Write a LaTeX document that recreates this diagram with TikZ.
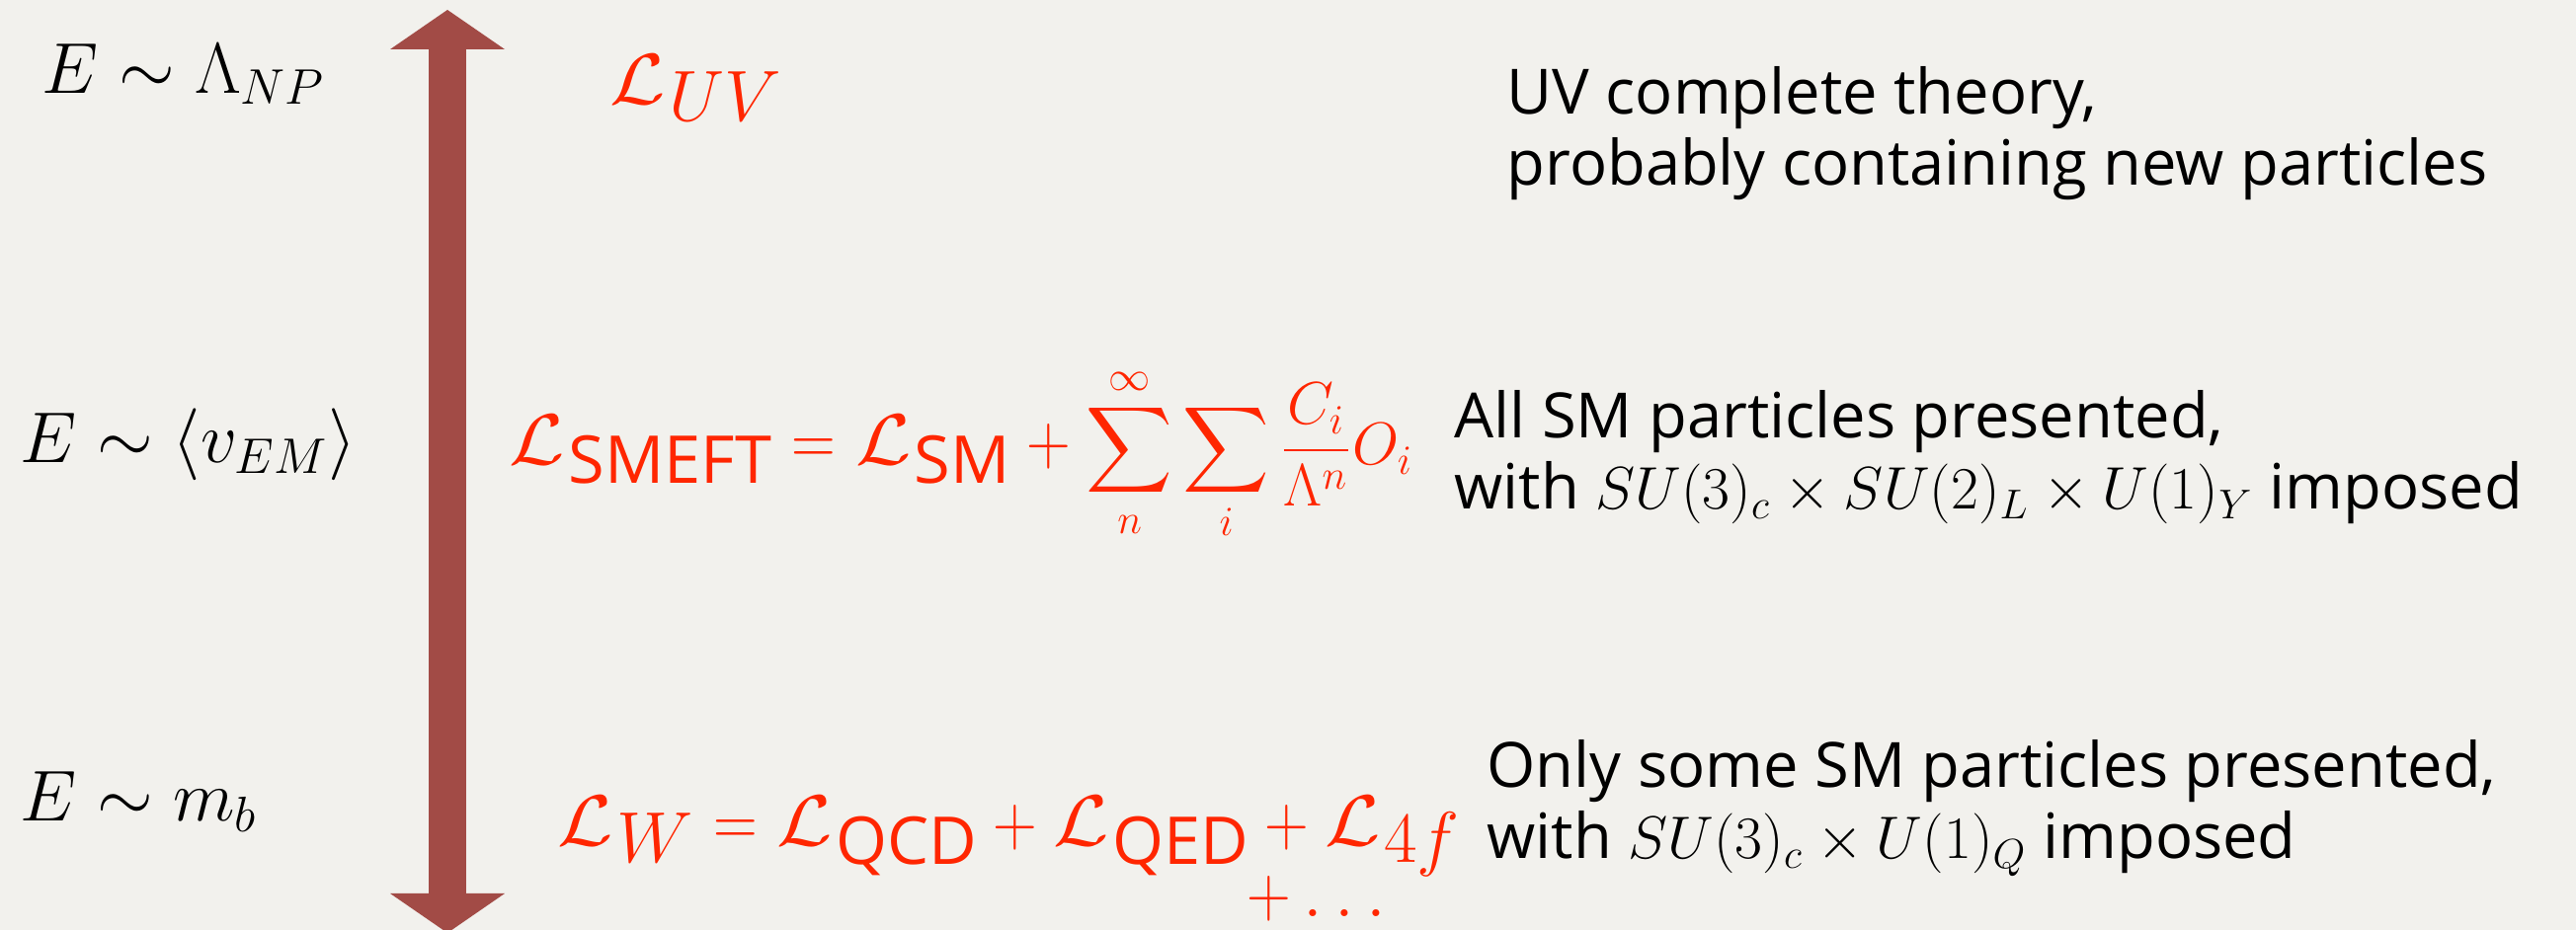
\documentclass[tikz,border=0pt]{standalone}
\usepackage{amsmath}
\usepackage{graphicx}
\usepackage{fontspec}
\setsansfont{Open Sans}
\usetikzlibrary{arrows.meta,positioning}

\definecolor{lagred}{RGB}{255,38,0}
\definecolor{scalebrown}{RGB}{162,75,70}
\definecolor{paper}{RGB}{242,241,237}
\newcommand{\Lag}{\scalebox{1.12}[1]{$\mathcal{L}$}}
\newcommand{\lsub}[1]{\kern1pt\raisebox{-0.19cm}{\sffamily\fontsize{19}{23}\selectfont #1}}
\newcommand{\isub}[1]{\kern1pt\raisebox{-0.17cm}{$#1$}}
\newcommand{\seq}{\mathrel{\scalebox{0.85}[1]{$=$}}}
\newcommand{\splus}{\mathbin{\scalebox{0.85}[1]{$+$}}}

\begin{document}
\begin{tikzpicture}[
  energy/.style={anchor=base west,inner sep=0pt,font=\fontsize{19.5}{23}\selectfont},
  lag/.style={anchor=base west,inner sep=0pt,text=lagred,font=\fontsize{20}{24}\selectfont},
  remark/.style={anchor=base west,inner sep=0pt,font=\sffamily\fontsize{18}{21}\selectfont}]
  \fill[paper] (0,0) rectangle (26.08,9.42);
  \useasboundingbox (0,0) rectangle (26.08,9.42);
  \coordinate (top) at (4.53,9.32);
  \coordinate (bottom) at (4.53,-0.03);
  \draw[scalebrown,line width=0.38cm,{Triangle[width=1.16cm,length=0.4cm,line width=0pt]}-{Triangle[width=1.16cm,length=0.4cm,line width=0pt]}] (bottom) -- (top);
  \node[energy] (uvscale) at (0.42,8.47) {$E \sim \Lambda_{NP}$};
  \node[energy] (ewscale) at (0.20,4.73) {$E \sim \langle v_{EM} \rangle$};
  \node[energy] (bscale) at (0.20,1.10) {$E \sim m_b$};
  \node[lag] (lagUV) at (6.17,8.36) {$\Lag\isub{UV}$};
  \node[lag] (lagSMEFT) at (5.15,4.71) {$\Lag\lsub{SMEFT} \seq \Lag\lsub{SM} \splus \mbox{\fontsize{17.5}{21}\selectfont$\displaystyle\sum_{n}^{\infty}\sum_{i}\frac{C_i}{\Lambda^n}O_i$}$};
  \node[lag] (lagW) at (5.64,0.85) {$\Lag\isub{W} \seq \Lag\lsub{QCD} \splus \Lag\lsub{QED} \splus \Lag\isub{4f}$};
  \node[lag] (dots) at (12.62,0.13) {$\splus\dots$};
  \node[remark] (uvtext) at (15.25,8.26) {UV complete theory,};
  \node[remark] (uvtext2) at (15.25,7.54) {probably containing new particles};
  \node[remark] (smtext) at (14.72,4.98) {All SM particles presented,};
  \node[remark] (smtext2) at (14.72,4.26) {with $SU(3)_c \times SU(2)_L \times U(1)_Y$ imposed};
  \node[remark] (lowtext) at (15.05,1.44) {Only some SM particles presented,};
  \node[remark] (lowtext2) at (15.05,0.72) {with $SU(3)_c \times U(1)_Q$ imposed};
\end{tikzpicture}
\end{document}
